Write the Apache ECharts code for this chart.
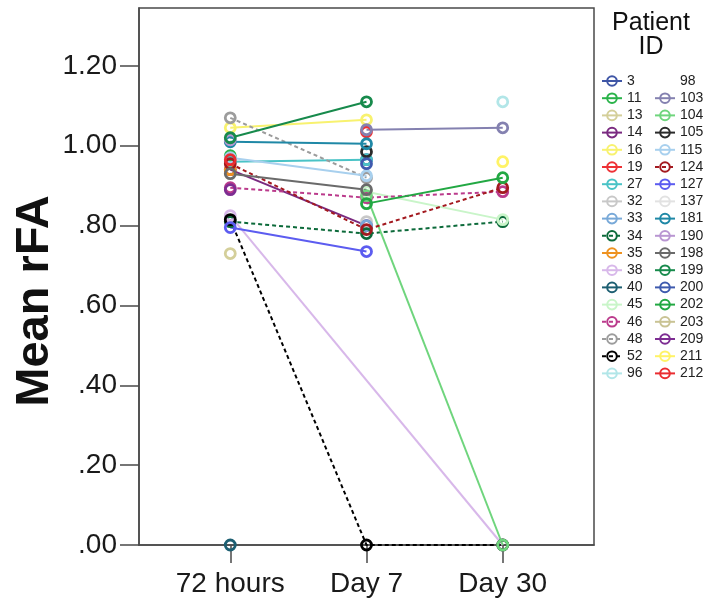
<!DOCTYPE html>
<html>
<head>
<meta charset="utf-8">
<script src="https://cdn.jsdelivr.net/npm/echarts@6/dist/echarts.min.js"></script>
<style>html,body{margin:0;padding:0;background:#fff}#c{width:704px;height:604px}</style>
</head>
<body>
<div id="c"></div>
<script>
const timepoints = ['72 hours', 'Day 7', 'Day 30'];
const yTicks = [0, 0.2, 0.4, 0.6, 0.8, 1.0, 1.2];
const patientIds = ['3','11','13','14','16','19','27','32','33','34','35','38','40','45','46','48','52','96',
                    '98','103','104','105','115','124','127','137','181','190','198','199','200','202','203','209','211','212'];
const patientColors = ['#3f56a6','#2ab34a','#d4cf9a','#7a2a80','#f8f26f','#ee3135','#4ac3c6','#c8c8c8','#78a9d8','#0c6a3a','#ee9220','#d8b8ea','#1d5f72','#c9f5c9','#bb3b8c','#9c9c9c','#000000','#b2e6e8',
                       'rgba(255,255,255,0)','#8481b0','#6fd57d','#2b2b2b','#a8d0ee','#a3191f','#5c5cf0','#e2e2e2','#1f88a6','#b996d2','#6a6a6a','#178a4c','#3e5aae','#22a843','#c9c394','#7d2d92','#fff366','#ea2d31'];
const dashedIds = ['34','46','48','52','124'];
const hours72 = [null,0.975,0.73,0.94,1.045,null,0.96,null,null,0.81,0.94,0.825,0.00,null,0.895,1.07,0.815,null,
                 null,null,null,null,0.97,0.955,0.795,null,1.01,1.015,0.93,1.02,null,null,null,0.89,null,0.965];
const day7   = [0.965,null,null,0.80,1.065,1.035,0.965,0.81,0.80,0.78,null,null,null,0.885,0.87,0.92,0.00,null,
                 null,1.04,0.875,0.985,0.925,0.79,0.735,null,1.005,null,0.89,1.11,0.955,0.855,null,null,null,null];
const day30  = [null,null,null,null,null,null,null,null,null,0.81,null,0.00,null,0.815,0.885,null,0.00,1.11,
                 null,1.045,0.00,null,null,0.895,null,null,null,null,null,null,null,0.92,null,null,0.96,null];

const font = '"Liberation Sans", Arial, sans-serif';
const series = patientIds.map((id, i) => {
  const c = patientColors[i];
  const vals = [hours72[i], day7[i], day30[i]];
  return {
    name: id,
    type: 'line',
    connectNulls: true,
    symbol: 'circle',
    symbolSize: 10,
    color: c,
    itemStyle: { color: 'rgba(255,255,255,0)', borderColor: c, borderWidth: 2.8 },
    lineStyle: { color: c, width: 2, type: dashedIds.includes(id) ? [4, 3] : 'solid' },
    emphasis: { disabled: true },
    data: vals.map((v, k) => [k, v == null ? '-' : v])
  };
});

const legendCommon = {
  orient: 'vertical', top: 74, padding: 0, itemWidth: 20, itemHeight: 12, itemGap: 3.2, selectedMode: false,
  textStyle: { fontSize: 14, color: '#222', fontFamily: font, lineHeight: 14 }
};

const chart = echarts.init(document.getElementById('c'));
chart.setOption({
  animation: false,
  backgroundColor: '#fff',
  grid: { left: 139, right: 110, top: 8, bottom: 59, show: true, borderColor: '#4a4a4a', borderWidth: 1.5, backgroundColor: 'transparent' },
  xAxis: {
    type: 'value', min: -0.67, max: 2.67,
    splitLine: { show: false },
    axisLine: { show: true, onZero: false, lineStyle: { color: '#4a4a4a', width: 1.5 } },
    axisTick: { show: true, length: 18, lineStyle: { color: '#4a4a4a', width: 1.5 }, customValues: [0, 1, 2] },
    axisLabel: { customValues: [0, 1, 2], formatter: v => timepoints[Math.round(v)] || '', fontSize: 28, color: '#1a1a1a', fontFamily: font, margin: 25 }
  },
  yAxis: {
    type: 'value', min: 0, max: 1.345,
    splitLine: { show: false },
    axisLine: { show: true, onZero: false, lineStyle: { color: '#4a4a4a', width: 1.5 } },
    axisTick: { show: true, length: 19, lineStyle: { color: '#4a4a4a', width: 1.5 }, customValues: yTicks },
    axisLabel: { customValues: yTicks, fontSize: 28, color: '#1a1a1a', fontFamily: font, margin: 22,
      formatter: v => { const s = Number(v).toFixed(2); return v < 1 ? s.slice(1) : s; } }
  },
  legend: [
    Object.assign({ left: 601, data: patientIds.slice(0, 18) }, legendCommon),
    Object.assign({ left: 654, data: patientIds.slice(18) }, legendCommon)
  ],
  graphic: [{
    type: 'text', x: 651, y: 11,
    style: { text: 'Patient\nID', fontSize: 25, lineHeight: 24, fill: '#111', fontFamily: font, align: 'center' }
  }, {
    type: 'text', x: 35, y: 301, rotation: Math.PI / 2,
    style: { text: 'Mean rFA', fontSize: 47, fontWeight: 'bold', fill: '#111', fontFamily: font, align: 'center', verticalAlign: 'middle' }
  }],
  series: series
});
</script>
</body>
</html>
